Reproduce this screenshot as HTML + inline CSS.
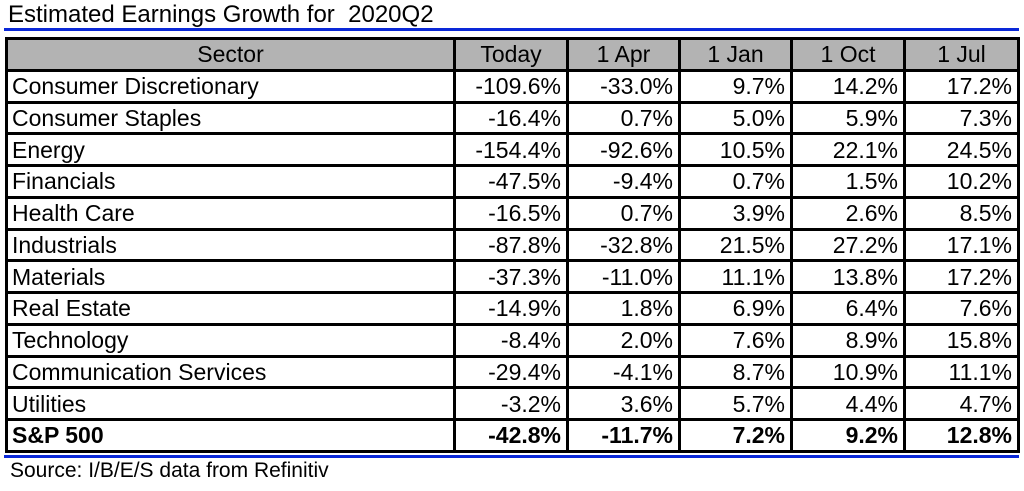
<!DOCTYPE html>
<html><head><meta charset="utf-8"><style>
body{margin:0;width:1024px;height:491px;background:#fff;font-family:"Liberation Sans",Arial,sans-serif;position:relative;overflow:hidden}
#title{position:absolute;left:8px;top:1px;font-size:24px;color:#000;white-space:pre}
.blue{position:absolute;left:4px;width:1015px;height:3px;background:#0a28d8}
table{position:absolute;left:5px;top:37px;width:1012px;border-collapse:collapse;table-layout:fixed}
td,th{border:3px solid #000;font-size:23px;font-weight:normal;height:28.75px;padding:0 5px;line-height:26px;white-space:nowrap;box-sizing:content-box}
th{background:#b3b3b3;text-align:center}
td{text-align:right}
td.s{text-align:left;padding-left:4px}
tr.b td{font-weight:bold}
#src{position:absolute;left:10px;top:459px;font-size:21px}
</style></head><body>
<div id="title">Estimated Earnings Growth for  2020Q2</div>
<div class="blue" style="top:28px"></div>
<table>
<colgroup><col style="width:448px"><col style="width:113px"><col style="width:112px"><col style="width:112px"><col style="width:113px"><col style="width:114px"></colgroup>
<thead><tr><th>Sector</th><th>Today</th><th>1 Apr</th><th>1 Jan</th><th>1 Oct</th><th>1 Jul</th></tr></thead>
<tbody id="tb"></tbody>
</table>
<div class="blue" style="top:455px"></div>
<div id="src">Source: I/B/E/S data from Refinitiv</div>
<script>
const sectors=["Consumer Discretionary","Consumer Staples","Energy","Financials","Health Care","Industrials","Materials","Real Estate","Technology","Communication Services","Utilities","S&P 500"];
const today=[-109.6,-16.4,-154.4,-47.5,-16.5,-87.8,-37.3,-14.9,-8.4,-29.4,-3.2,-42.8];
const apr=[-33.0,0.7,-92.6,-9.4,0.7,-32.8,-11.0,1.8,2.0,-4.1,3.6,-11.7];
const jan=[9.7,5.0,10.5,0.7,3.9,21.5,11.1,6.9,7.6,8.7,5.7,7.2];
const oct=[14.2,5.9,22.1,1.5,2.6,27.2,13.8,6.4,8.9,10.9,4.4,9.2];
const jul=[17.2,7.3,24.5,10.2,8.5,17.1,17.2,7.6,15.8,11.1,4.7,12.8];
const tb=document.getElementById('tb');
sectors.forEach((s,i)=>{
  const tr=document.createElement('tr');
  
  
  if(i===sectors.length-1)tr.className='b';
  const c=document.createElement('td');c.className='s';c.textContent=s;
  
  
  tr.appendChild(c);
  [today,apr,jan,oct,jul].forEach(a=>{
    const d=document.createElement('td');d.textContent=a[i].toFixed(1)+'%';
    
    
    tr.appendChild(d);
  });
  tb.appendChild(tr);
});
</script>
</body></html>
